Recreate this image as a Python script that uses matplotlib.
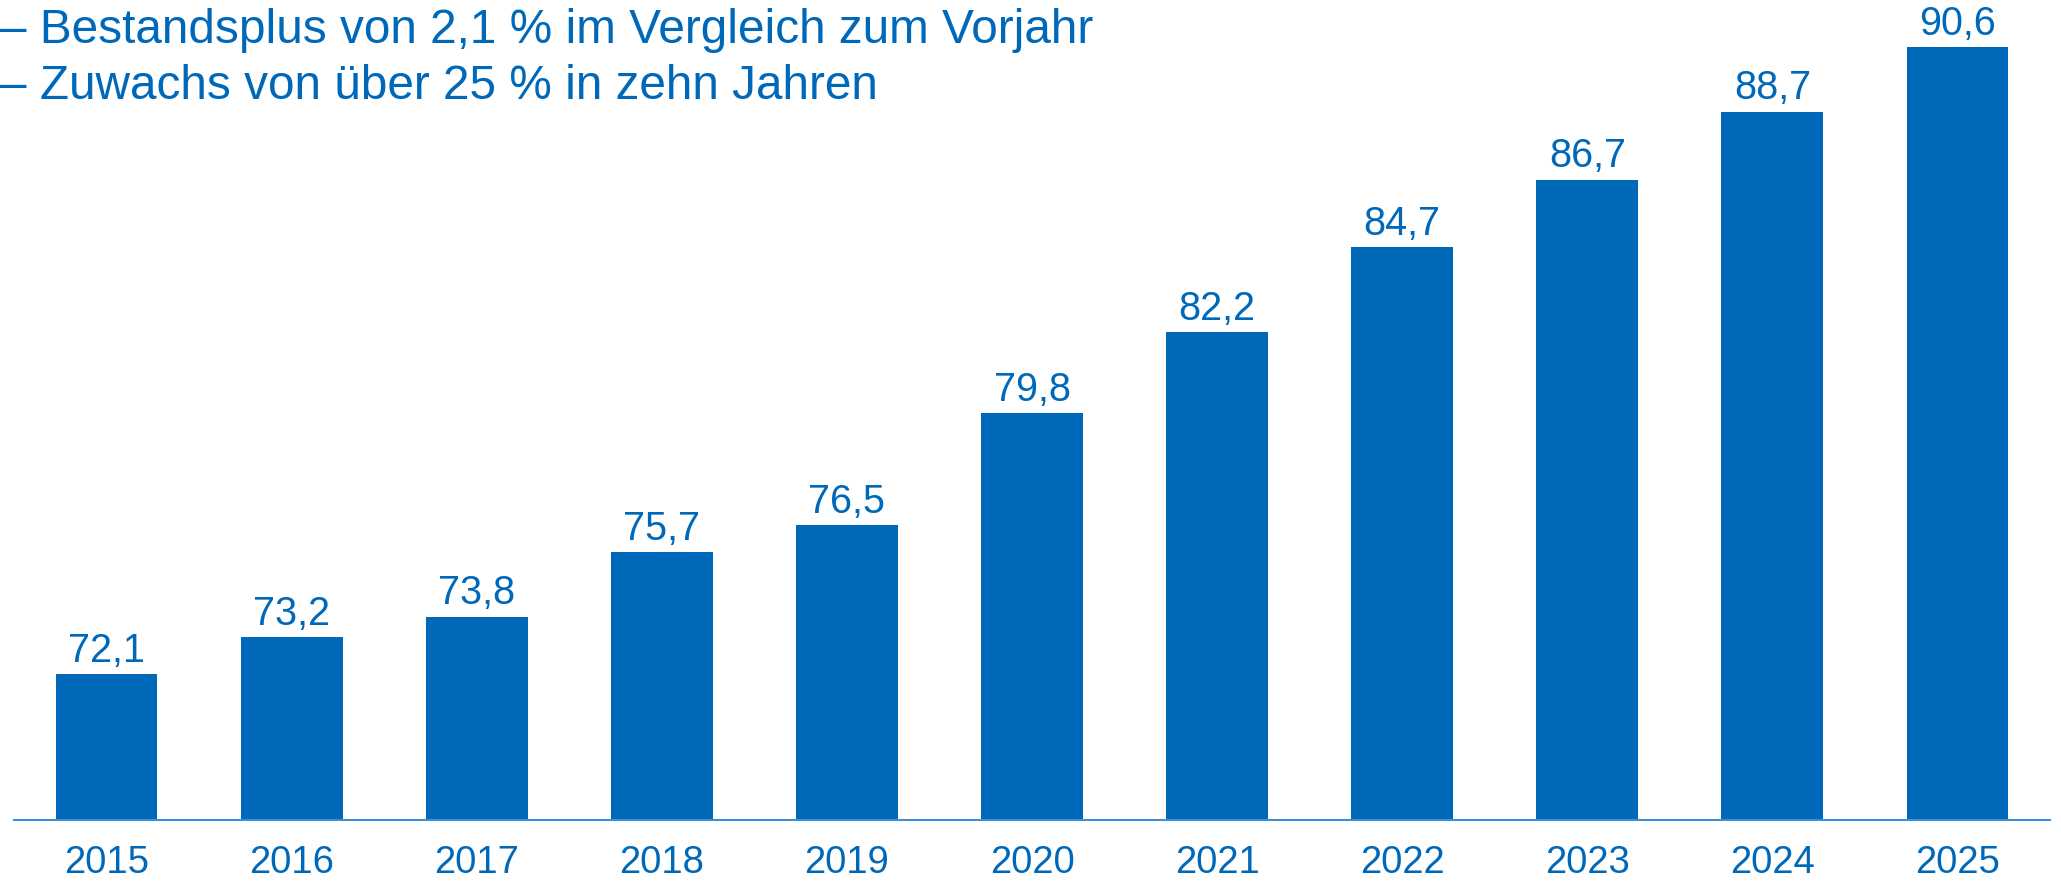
import numpy as np
import matplotlib
matplotlib.use("Agg")
import matplotlib.pyplot as plt

plt.rcParams['font.family'] = ['Liberation Sans', 'DejaVu Sans']

jahre = ['2015', '2016', '2017', '2018', '2019', '2020', '2021', '2022', '2023', '2024', '2025']
werte = [72.1, 73.2, 73.8, 75.7, 76.5, 79.8, 82.2, 84.7, 86.7, 88.7, 90.6]
zeile1 = '– Bestandsplus von 2,1 % im Vergleich zum Vorjahr'
zeile2 = '– Zuwachs von über 25 % in zehn Jahren'

blau = '#0068B8'
linie = '#3D8FD2'

fig = plt.figure(figsize=(20.61, 8.82), dpi=100)
ax = fig.add_axes([14 / 2061, 62 / 882, 2036 / 2061, 820 / 882])

x = np.arange(len(jahre))
ax.bar(x, np.array(werte) - 67.8, bottom=67.8, width=0.55, color=blau)

# Werte ueber den Balken
for xi, w in zip(x, werte):
    ax.annotate(f'{w:.1f}'.replace('.', ','), (xi, w), xytext=(0, 9),
                textcoords='offset points', ha='center', va='baseline',
                fontsize=28.5, color=blau)

ax.set_xlim(-0.5, 10.5)
ax.set_ylim(67.8, 92.0)
ax.set_xticks(x)
ax.set_xticklabels(jahre, fontsize=27.5, color=blau)
ax.tick_params(axis='x', length=0, pad=18)
ax.set_yticks([])
for s in ['top', 'right', 'left']:
    ax.spines[s].set_visible(False)
ax.spines['bottom'].set_color(linie)
ax.spines['bottom'].set_linewidth(1.5)

fig.text(0.0, 1 - 43 / 882, zeile1, fontsize=34.4, color=blau, va='baseline', ha='left')
fig.text(0.0, 1 - 99 / 882, zeile2, fontsize=34.4, color=blau, va='baseline', ha='left')

fig.savefig('out.png', dpi=100)
